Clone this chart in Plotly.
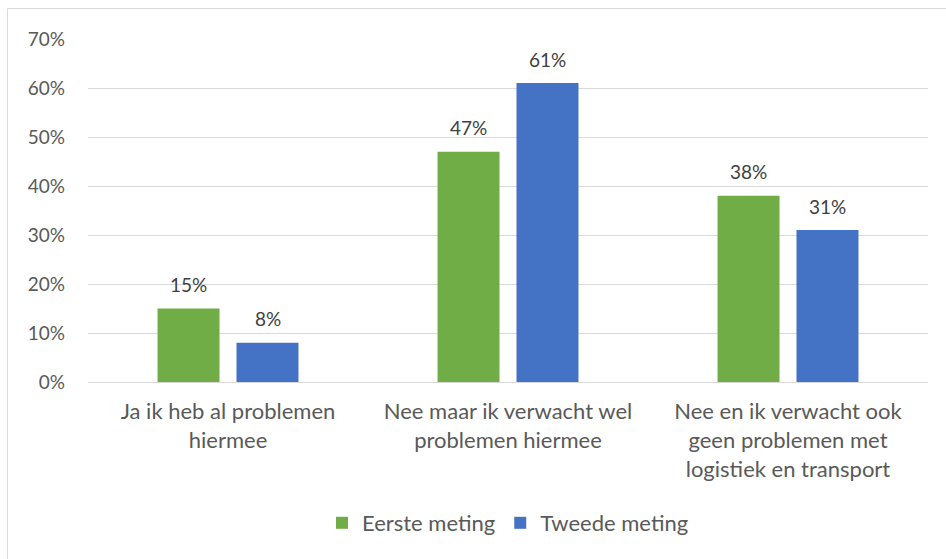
import plotly.graph_objects as go

categories = ["Ja ik heb al problemen<br>hiermee",
              "Nee maar ik verwacht wel<br>problemen hiermee",
              "Nee en ik verwacht ook<br>geen problemen met<br>logistiek en transport"]
eerste = [15, 47, 38]
tweede = [8, 61, 31]
series_names = ["Eerste meting", "Tweede meting"]
colors = ["#70AD47", "#4472C4"]
y_ticks = [0, 10, 20, 30, 40, 50, 60, 70]

W, H = 946, 559
ml, mr, mt, mb = 88, 18, 39, 177
pw, ph = W - ml - mr, H - mt - mb

FONT = "Lato, Open Sans, sans-serif"

fig = go.Figure()
for name, vals, col in zip(series_names, [eerste, tweede], colors):
    fig.add_trace(go.Bar(x=categories, y=vals, name=name, marker_color=col,
                         marker_line_width=0))

annotations = []
for i, (vals, shift) in enumerate(zip([eerste, tweede], [-39.5, 39.5])):
    for c, v in zip(categories, vals):
        annotations.append(dict(x=c, y=v, text=f"{v}%", showarrow=False,
                                xref="x", yref="y", xshift=shift, yshift=24,
                                font=dict(family=FONT, size=19, color="#404040")))

fig.update_layout(
    width=W, height=H,
    margin=dict(l=ml, r=mr, t=mt, b=mb),
    paper_bgcolor="white", plot_bgcolor="white",
    barmode="group", bargap=0.436, bargroupgap=0.215,
    font=dict(family=FONT, color="#595959", size=16),
    showlegend=True,
    legend=dict(orientation="h", x=0.5, xanchor="center",
                y=(382 - 523) / ph, yanchor="middle",
                font=dict(family=FONT, size=22, color="#595959"),
                itemwidth=30, traceorder="normal"),
    annotations=annotations,
    shapes=[dict(type="rect", xref="paper", yref="paper",
                 x0=(7.5 - ml) / pw, x1=(960 - ml) / pw,
                 y0=(H - 580 - mb) / ph, y1=(H - 8.5 - mb) / ph,
                 line=dict(color="#D9D9D9", width=1), layer="below")],
)
fig.update_yaxes(range=[0, 70], tickvals=y_ticks, ticktext=[f"{t}%" for t in y_ticks],
                 showgrid=True, gridcolor="#D9D9D9", gridwidth=1, zeroline=False,
                 showline=False, ticks="", ticklabelstandoff=22,
                 tickfont=dict(family=FONT, size=19, color="#595959"))
fig.update_xaxes(showgrid=False, showline=True, linecolor="#D9D9D9", linewidth=1,
                 ticks="", ticklabelstandoff=10,
                 tickfont=dict(family=FONT, size=22, color="#595959"))

fig.write_html("out.html", config={"displayModeBar": False},
               post_script="document.body.style.margin='0';")
